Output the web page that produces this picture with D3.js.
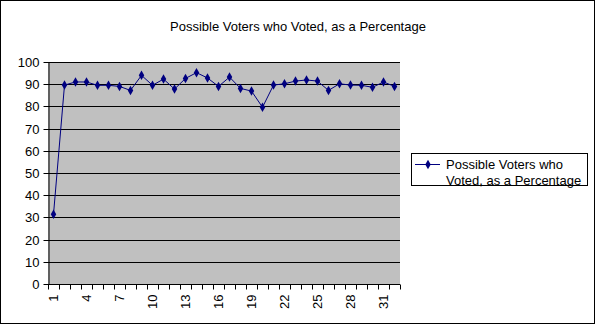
<!DOCTYPE html>
<html><head><meta charset="utf-8">
<script src="https://cdn.jsdelivr.net/npm/d3@7"></script>
<style>body{margin:0;background:#fff}svg{display:block}text{font-family:"Liberation Sans",Arial,sans-serif;}</style>
</head><body>
<script>
const title = "Possible Voters who Voted, as a Percentage";
const seriesName = ["Possible Voters who", "Voted, as a Percentage"];
const categories = d3.range(1, 33);
const values = [31.4, 89.6, 91.0, 91.0, 89.5, 89.5, 89.0, 87.2, 94.0, 89.5, 92.3, 87.8, 92.6, 95.2, 92.8, 89.0,
                93.2, 88.1, 86.9, 79.6, 89.6, 90.2, 91.4, 91.9, 91.4, 87.2, 90.2, 89.6, 89.5, 88.6, 91.0, 89.0];
const yTicks = d3.range(0, 101, 10);
const xLabelEvery = 3;

const W = 597, H = 326;
const m = {left: 48, right: 197, top: 62, bottom: 42};
const FS = 13;
const svg = d3.select("body").append("svg").attr("width", W).attr("height", H);

svg.append("rect").attr("x", 0.5).attr("y", 0.5).attr("width", W - 3).attr("height", H - 3)
  .attr("fill", "#fff").attr("stroke", "#000").attr("stroke-width", 1);

const x = d3.scaleBand().domain(categories).range([m.left, W - m.right]);
const y = d3.scaleLinear().domain([0, 100]).range([H - m.bottom, m.top]);

svg.append("rect").attr("x", m.left).attr("y", m.top).attr("width", W - m.right - m.left)
  .attr("height", H - m.bottom - m.top).attr("fill", "#c0c0c0");

svg.append("g").selectAll("line").data(yTicks.slice(1)).join("line")
  .attr("x1", m.left).attr("x2", W - m.right)
  .attr("y1", d => Math.round(y(d)) + 0.5).attr("y2", d => Math.round(y(d)) + 0.5)
  .attr("stroke", "#000");

const yAxis = svg.append("g").attr("transform", `translate(${m.left + 0.5},0)`)
  .call(d3.axisLeft(y).tickValues(yTicks).tickSize(5).tickSizeOuter(0).tickPadding(4).tickFormat(d3.format("d")));
yAxis.selectAll("text").attr("font-size", FS).attr("fill", "#000").attr("font-family", "Liberation Sans, Arial, sans-serif");
yAxis.selectAll("line,path").attr("stroke", "#000");
yAxis.selectAll(".tick").attr("transform", d => `translate(0,${Math.round(y(d)) + 0.5})`);

// x axis: ticks at category boundaries, labels every 3
const xb = H - m.bottom + 0.5;
const gx = svg.append("g");
gx.append("line").attr("x1", m.left).attr("x2", W - m.right).attr("y1", xb).attr("y2", xb).attr("stroke", "#000");
const bounds = categories.map(c => x(c)).concat([x(categories[categories.length - 1]) + x.bandwidth()]);
gx.selectAll("line.t").data(bounds).join("line").attr("class", "t")
  .attr("x1", d => Math.round(d) + 0.5).attr("x2", d => Math.round(d) + 0.5)
  .attr("y1", xb).attr("y2", xb + 5).attr("stroke", "#000");
gx.selectAll("text").data(categories.filter((c, i) => i % xLabelEvery === 0)).join("text")
  .attr("transform", d => `translate(${x(d) + x.bandwidth() / 2 + 4.5},${xb + 10}) rotate(-90)`)
  .attr("text-anchor", "end").attr("font-size", FS).attr("fill", "#000").text(d => d);

const line = d3.line().x((d, i) => x(categories[i]) + x.bandwidth() / 2).y(d => y(d));
svg.append("path").datum(values).attr("d", line).attr("fill", "none").attr("stroke", "#000080").attr("stroke-width", 1);

const diamond = d3.symbol().type(d3.symbolDiamond).size(26);
svg.append("g").selectAll("path").data(values).join("path")
  .attr("transform", (d, i) => `translate(${x(categories[i]) + x.bandwidth() / 2},${y(d)})`)
  .attr("d", diamond).attr("fill", "#000080");

svg.append("text").attr("x", 298).attr("y", 31).attr("text-anchor", "middle").attr("font-size", FS)
  .attr("fill", "#000").text(title);

// legend
const lg = svg.append("g");
lg.append("rect").attr("x", 411.5).attr("y", 153.5).attr("width", 176).attr("height", 32)
  .attr("fill", "#fff").attr("stroke", "#000");
lg.append("line").attr("x1", 415).attr("x2", 440).attr("y1", 164.5).attr("y2", 164.5).attr("stroke", "#000080");
lg.append("path").attr("transform", "translate(428,164.5)").attr("d", diamond).attr("fill", "#000080");
lg.selectAll("text").data(seriesName).join("text").attr("x", 446).attr("y", (d, i) => 169 + i * 16)
  .attr("font-size", FS).attr("fill", "#000").text(d => d);
</script>
</body></html>
